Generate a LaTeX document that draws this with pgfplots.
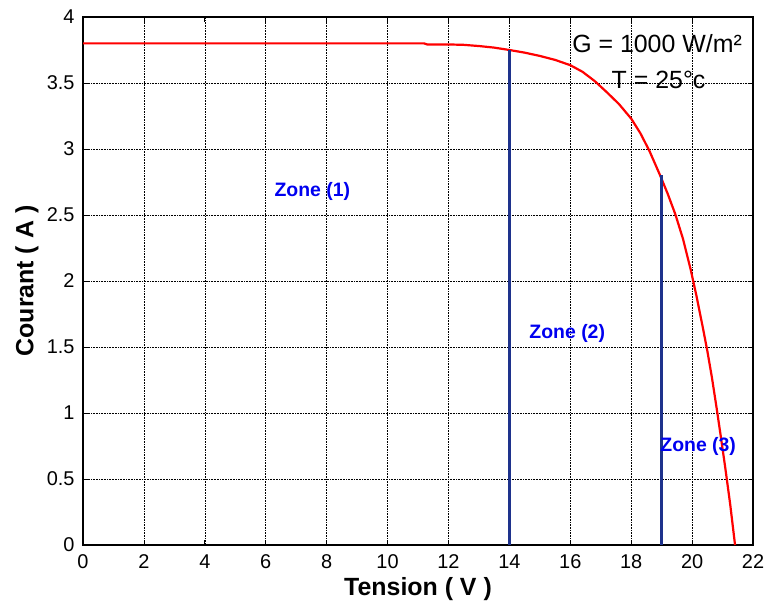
\documentclass[border=0pt]{standalone}
\usepackage{pgfplots}
\pgfplotsset{compat=1.18}
\usepackage{fontspec}
\setmainfont{Liberation Sans}
\definecolor{zoneblue}{RGB}{0,0,240}
\definecolor{lineblue}{RGB}{30,50,140}
\begin{document}
\begin{tikzpicture}[x=1bp,y=1bp]
\path[use as bounding box] (-83,-59) rectangle (682,545);
\begin{axis}[
  at={(0,0)}, anchor=south west,
  scale only axis=true,
  width=670bp, height=528bp,
  xmin=0, xmax=22, ymin=0, ymax=4,
  xtick={0,2,...,22},
  ytick={0,0.5,1,1.5,2,2.5,3,3.5,4},
  yticklabels={0,0.5,1,1.5,2,2.5,3,3.5,4},
  grid=major,
  major grid style={black, line width=0.6pt, densely dotted},
  tick align=inside,
  major tick length=5bp,
  tick style={black, line width=0.8pt},
  axis line style={black, line width=1.4pt},
  /pgf/number format/assume math mode=true,
  ticklabel style={font=\fontsize{20}{22}\selectfont},
  yticklabel style={xshift=-5bp},
  xticklabel style={yshift=-6bp},
  xlabel={\textbf{Tension ( V )}},
  ylabel={\textbf{Courant ( A )}},
  label style={font=\fontsize{25}{27}\selectfont},
  xlabel style={at={(axis description cs:0.5,0)}, anchor=center, yshift=-44bp},
  ylabel style={at={(axis description cs:0,0.5)}, anchor=center, yshift=56bp},
  clip=false,
]
\addplot[red, line width=2.2bp] coordinates {
(0,3.80) (5,3.80) (10,3.80) (11.2,3.80) (11.3,3.792) (12,3.792) (12.5,3.789) (13,3.78) (13.5,3.768) (14,3.75)
(14.5,3.73) (15,3.705) (15.5,3.675) (16,3.635) (16.4,3.585) (16.8,3.515) (17.2,3.43) (17.6,3.34)
(18,3.23) (18.3,3.12) (18.6,2.985) (18.95,2.80) (19.2,2.66) (19.45,2.505) (19.7,2.32) (19.95,2.09)
(20.15,1.88) (20.35,1.65) (20.5,1.47) (20.65,1.27) (20.81,1.03) (20.95,0.81) (21.08,0.60)
(21.25,0.31) (21.41,0.0)
};
\addplot[lineblue, line width=2.6bp] coordinates {(14,0) (14,3.75)};
\addplot[lineblue, line width=2.6bp] coordinates {(19,0) (19,2.80)};
\node[zoneblue, font=\bfseries\fontsize{19.5}{21}\selectfont] at (axis cs:7.53,2.68) {Zone (1)};
\node[zoneblue, font=\bfseries\fontsize{19.5}{21}\selectfont] at (axis cs:15.9,1.6) {Zone (2)};
\node[zoneblue, font=\bfseries\fontsize{19.5}{21}\selectfont] at (axis cs:20.2,0.75) {Zone (3)};
\node[black, font=\fontsize{25}{27}\selectfont] at (axis cs:18.85,3.80) {G = 1000 W/m²};
\node[black, font=\fontsize{25}{27}\selectfont] at (axis cs:18.9,3.52) {T = 25°c};
\end{axis}
\end{tikzpicture}
\end{document}
